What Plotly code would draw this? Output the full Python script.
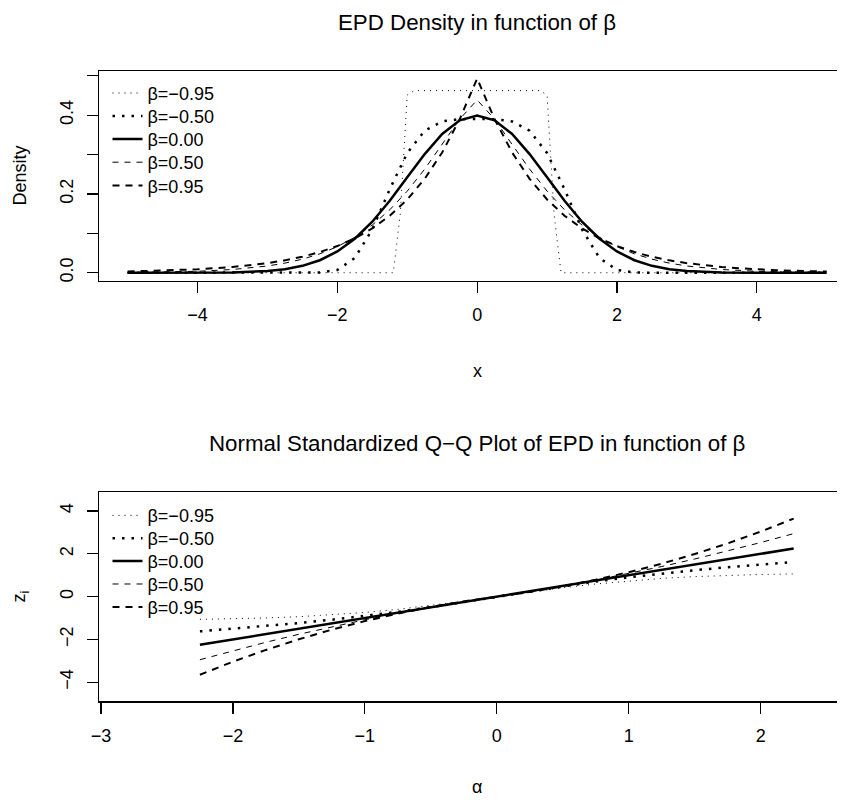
import plotly.graph_objects as go

# ---------------- data ----------------
beta_labels = ["β=−0.95", "β=−0.50", "β=0.00", "β=0.50", "β=0.95"]

# top panel: EPD densities
x_unif = [-5.0, -1.2, -1.1, -1.0, -0.9, 0.0, 0.9, 1.0, 1.1, 1.2, 5.0]
dens_bm095 = [0.0, 0.0, 0.1491, 0.4509, 0.4621, 0.4623, 0.4621, 0.4509, 0.1491, 0.0, 0.0]

x_dens = [-5.0, -4.5, -4.0, -3.5, -3.0, -2.75, -2.5, -2.25, -2.0, -1.75, -1.5, -1.25,
          -1.0, -0.75, -0.5, -0.25, 0.0, 0.25, 0.5, 0.75, 1.0, 1.25, 1.5, 1.75,
          2.0, 2.25, 2.5, 2.75, 3.0, 3.5, 4.0, 4.5, 5.0]
dens_bm050 = [0.0, 0.0, 0.0, 0.0, 0.0, 0.0, 0.0, 0.0006, 0.0071, 0.0374, 0.1100, 0.2119,
              0.3038, 0.3604, 0.3840, 0.3897, 0.3901, 0.3897, 0.3840, 0.3604, 0.3038, 0.2119,
              0.1100, 0.0374, 0.0071, 0.0006, 0.0, 0.0, 0.0, 0.0, 0.0, 0.0, 0.0]
dens_b000 = [0.0, 0.0, 0.0001, 0.0009, 0.0044, 0.0091, 0.0175, 0.0317, 0.0540, 0.0863, 0.1295, 0.1826,
             0.2420, 0.3011, 0.3521, 0.3867, 0.3989, 0.3867, 0.3521, 0.3011, 0.2420, 0.1826,
             0.1295, 0.0863, 0.0540, 0.0317, 0.0175, 0.0091, 0.0044, 0.0009, 0.0001, 0.0, 0.0]
dens_b050 = [0.0007, 0.0017, 0.0037, 0.0082, 0.0171, 0.0244, 0.0344, 0.0480, 0.0662, 0.0901, 0.1210, 0.1597,
             0.2071, 0.2630, 0.3255, 0.3896, 0.4384, 0.3896, 0.3255, 0.2630, 0.2071, 0.1597,
             0.1210, 0.0901, 0.0662, 0.0480, 0.0344, 0.0244, 0.0171, 0.0082, 0.0037, 0.0017, 0.0007]
dens_b095 = [0.0031, 0.0051, 0.0087, 0.0145, 0.0243, 0.0314, 0.0406, 0.0525, 0.0677, 0.0873, 0.1124, 0.1446,
             0.1858, 0.2384, 0.3052, 0.3894, 0.4927, 0.3894, 0.3052, 0.2384, 0.1858, 0.1446,
             0.1124, 0.0873, 0.0677, 0.0525, 0.0406, 0.0314, 0.0243, 0.0145, 0.0087, 0.0051, 0.0031]

# bottom panel: normal Q-Q of EPD quantiles
alpha_q = [-2.25, -2.0, -1.75, -1.5, -1.25, -1.0, -0.75, -0.5, -0.25, 0.0,
           0.25, 0.5, 0.75, 1.0, 1.25, 1.5, 1.75, 2.0, 2.25]
qq_bm095 = [-1.0618, -1.0348, -0.9954, -0.9371, -0.8530, -0.7384, -0.5913, -0.4141, -0.2135, 0.0,
            0.2135, 0.4141, 0.5913, 0.7384, 0.8530, 0.9371, 0.9954, 1.0348, 1.0618]
qq_bm050 = [-1.6219, -1.5028, -1.3737, -1.2327, -1.0771, -0.9038, -0.7096, -0.4922, -0.2531, 0.0,
            0.2531, 0.4922, 0.7096, 0.9038, 1.0771, 1.2327, 1.3737, 1.5028, 1.6219]
qq_b000 = [-2.25, -2.0, -1.75, -1.5, -1.25, -1.0, -0.75, -0.5, -0.25, 0.0,
           0.25, 0.5, 0.75, 1.0, 1.25, 1.5, 1.75, 2.0, 2.25]
qq_b050 = [-2.9447, -2.5270, -2.1311, -1.7575, -1.4062, -1.0784, -0.7740, -0.4932, -0.2359, 0.0,
           0.2359, 0.4932, 0.7740, 1.0784, 1.4062, 1.7575, 2.1311, 2.5270, 2.9447]
qq_b095 = [-3.6460, -3.0398, -2.4884, -1.9897, -1.5409, -1.1420, -0.7902, -0.4841, -0.2216, 0.0,
           0.2216, 0.4841, 0.7902, 1.1420, 1.5409, 1.9897, 2.4884, 3.0398, 3.6460]

top_xticks = [-4, -2, 0, 2, 4]
top_xticktext = ["−4", "−2", "0", "2", "4"]
top_yticks = [0.0, 0.2, 0.4]
top_yticktext = ["0.0", "0.2", "0.4"]
bot_xticks = [-3, -2, -1, 0, 1, 2]
bot_xticktext = ["−3", "−2", "−1", "0", "1", "2"]
bot_yticks = [-4, -2, 0, 2, 4]
bot_yticktext = ["−4", "−2", "0", "2", "4"]

# ---------------- styles / geometry ----------------
FONT = "Liberation Sans, Arial, Helvetica, sans-serif"
TICK_SIZE = 18
TITLE_SIZE = 22.3
line_styles = [
    dict(color="black", width=1, dash="1px,5px"),
    dict(color="black", width=2.5, dash="2.5px,7px"),
    dict(color="black", width=2.5, dash="solid"),
    dict(color="black", width=1, dash="6px,6px"),
    dict(color="black", width=2, dash="7px,6px"),
]

OFF = 8            # default page margin of the html body
W, H = 845 - OFF, 800 - OFF


def px_x(p):       # page pixel -> paper fraction
    return (p - OFF) / W


def px_y(p):
    return 1 - (p - OFF) / H


fig = go.Figure()

top_legend_y = [93.3, 116.3, 139.3, 162.5, 185.8]
bot_legend_y = [515.7, 538.5, 561.2, 584.3, 607.3]

top_series = [(x_unif, dens_bm095), (x_dens, dens_bm050), (x_dens, dens_b000),
              (x_dens, dens_b050), (x_dens, dens_b095)]
legend_defs = {}
for i, ((xs, ys), name, st) in enumerate(zip(top_series, beta_labels, line_styles)):
    lg = "legend" if i == 0 else f"legend{i + 1}"
    legend_defs[lg] = top_legend_y[i]
    fig.add_trace(go.Scatter(x=xs, y=ys, mode="lines", name=name, line=st,
                             xaxis="x", yaxis="y", legend=lg, hoverinfo="skip"))

bot_series = [qq_bm095, qq_bm050, qq_b000, qq_b050, qq_b095]
for i, (ys, name, st) in enumerate(zip(bot_series, beta_labels, line_styles)):
    lg = f"legend{i + 6}"
    legend_defs[lg] = bot_legend_y[i]
    fig.add_trace(go.Scatter(x=alpha_q, y=ys, mode="lines", name=name, line=st,
                             xaxis="x2", yaxis="y2", legend=lg, hoverinfo="skip"))

axis_common = dict(showgrid=False, zeroline=False, showline=True, linecolor="black",
                   linewidth=1.2, ticks="outside", ticklen=11, tickwidth=1.2,
                   tickcolor="black", tickfont=dict(family=FONT, size=TICK_SIZE, color="black"),
                   fixedrange=True, automargin=False, ticklabelstandoff=7)

x_dom = [px_x(99.3), 1.0]
top_dom = [px_y(280.5), px_y(70.8)]
bot_dom = [px_y(701.3), px_y(492.0)]

layout_kw = dict(
    width=W, height=H,
    margin=dict(l=0, r=0, t=0, b=0, autoexpand=False),
    paper_bgcolor="white", plot_bgcolor="white",
    font=dict(family=FONT, size=TICK_SIZE, color="black"),
    showlegend=True,
    xaxis=dict(domain=x_dom, anchor="y", range=[-5.405, 5.262], tickmode="array",
               tickvals=top_xticks, ticktext=top_xticktext, mirror=True, **axis_common),
    yaxis=dict(domain=top_dom, anchor="x", range=[-0.0197, 0.5124], tickmode="array",
               tickvals=top_yticks, ticktext=top_yticktext, tickangle=-90,
               minor=dict(dtick=0.1, tick0=0, ticks="outside", ticklen=11, tickwidth=1.2,
                          tickcolor="black", showgrid=False),
               **axis_common),
    xaxis2=dict(domain=x_dom, anchor="y2", range=[-3.0126, 2.639], tickmode="array",
                tickvals=bot_xticks, ticktext=bot_xticktext, mirror=True, **axis_common),
    yaxis2=dict(domain=bot_dom, anchor="x2", range=[-4.888, 4.888], tickmode="array",
                tickvals=bot_yticks, ticktext=bot_yticktext, tickangle=-90, **axis_common),
)
for lg, yc in legend_defs.items():
    layout_kw[lg] = dict(x=px_x(107.5), y=px_y(yc), xanchor="left", yanchor="middle",
                         bgcolor="rgba(0,0,0,0)", borderwidth=0, itemwidth=30,
                         font=dict(family=FONT, size=TICK_SIZE, color="black"))
fig.update_layout(**layout_kw)

cx = px_x((99.3 + 854.7) / 2)
annots = [
    dict(text="EPD Density in function of β", x=cx, y=px_y(22.5), size=TITLE_SIZE, angle=0),
    dict(text="Normal Standardized Q−Q Plot of EPD in function of β", x=cx, y=px_y(443.5),
         size=TITLE_SIZE, angle=0),
    dict(text="x", x=cx, y=px_y(371), size=TICK_SIZE, angle=0),
    dict(text="α", x=cx, y=px_y(787), size=TICK_SIZE, angle=0),
    dict(text="Density", x=px_x(20), y=px_y(175.6), size=TICK_SIZE, angle=-90),
    dict(text="z<sub>i</sub>", x=px_x(21), y=px_y(596.6), size=TICK_SIZE, angle=-90),
]
for a in annots:
    fig.add_annotation(text=a["text"], x=a["x"], y=a["y"], xref="paper", yref="paper",
                       xanchor="center", yanchor="middle", showarrow=False,
                       textangle=a["angle"],
                       font=dict(family=FONT, size=a["size"], color="black"))

fig.write_html("out.html", config={"displayModeBar": False, "staticPlot": True})
